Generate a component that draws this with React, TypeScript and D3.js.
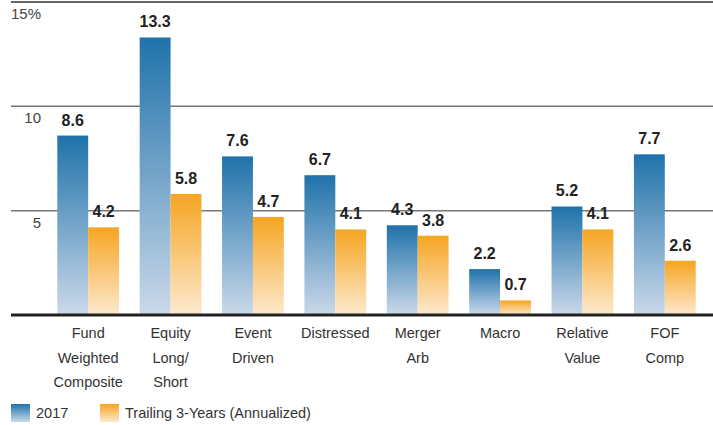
import React, { useEffect, useRef } from 'react';
import * as d3 from 'd3';

const categories = [
  ['Fund', 'Weighted', 'Composite'],
  ['Equity', 'Long/', 'Short'],
  ['Event', 'Driven'],
  ['Distressed'],
  ['Merger', 'Arb'],
  ['Macro'],
  ['Relative', 'Value'],
  ['FOF', 'Comp'],
];
const values2017 = [8.6, 13.3, 7.6, 6.7, 4.3, 2.2, 5.2, 7.7];
const valuesTrailing = [4.2, 5.8, 4.7, 4.1, 3.8, 0.7, 4.1, 2.6];
const seriesNames = ['2017', 'Trailing 3-Years (Annualized)'];
const yTicks = [5, 10, 15];

export default function App() {
  const ref = useRef<SVGSVGElement | null>(null);

  useEffect(() => {
    document.body.style.margin = '0';
    const width = 713;
    const height = 425;
    const font = '"Liberation Sans", Arial, sans-serif';

    const svg = d3.select(ref.current);
    svg.selectAll('*').remove();
    svg.attr('width', width).attr('height', height).style('font-family', font);

    const defs = svg.append('defs');
    const grad = (id, top, bottom) => {
      const g = defs.append('linearGradient').attr('id', id).attr('x1', 0).attr('y1', 0).attr('x2', 0).attr('y2', 1);
      g.append('stop').attr('offset', '0%').attr('stop-color', top);
      g.append('stop').attr('offset', '100%').attr('stop-color', bottom);
    };
    grad('gBlue', '#1f72aa', '#cbd9ea');
    grad('gOrange', '#f6a521', '#fde9cf');

    const x = d3
      .scaleBand()
      .domain(d3.range(categories.length).map(String))
      .range([47, 706])
      .paddingInner(0.25)
      .paddingOuter(0.125);
    const x1 = d3.scaleBand().domain(['a', 'b']).range([0, x.bandwidth()]);
    const y = d3.scaleLinear().domain([0, 15]).range([315, 2]);

    // gridlines + tick labels
    yTicks.forEach((t) => {
      svg
        .append('line')
        .attr('x1', 11)
        .attr('x2', width)
        .attr('y1', y(t))
        .attr('y2', y(t))
        .attr('stroke', t === 15 ? '#333' : '#777')
        .attr('stroke-width', 1.5);
      svg
        .append('text')
        .attr('x', 41)
        .attr('y', y(t) + 17)
        .attr('text-anchor', 'end')
        .attr('font-size', 15)
        .attr('fill', '#444')
        .text(t === 15 ? '15%' : String(t));
    });

    const groups = svg
      .selectAll('.grp')
      .data(categories)
      .join('g')
      .attr('transform', (d, i) => `translate(${x(String(i))},0)`);

    const series = [
      { key: 'a', vals: values2017, fill: 'url(#gBlue)' },
      { key: 'b', vals: valuesTrailing, fill: 'url(#gOrange)' },
    ];
    series.forEach((s) => {
      groups
        .append('rect')
        .attr('x', x1(s.key))
        .attr('y', (d, i) => y(s.vals[i]))
        .attr('width', x1.bandwidth())
        .attr('height', (d, i) => y(0) - y(s.vals[i]))
        .attr('fill', s.fill);
      groups
        .append('text')
        .attr('x', x1(s.key) + x1.bandwidth() / 2)
        .attr('y', (d, i) => y(s.vals[i]) - 10)
        .attr('text-anchor', 'middle')
        .attr('font-size', 16)
        .attr('font-weight', 'bold')
        .attr('fill', '#222')
        .text((d, i) => s.vals[i].toFixed(1));
    });

    // category labels
    groups
      .append('text')
      .attr('text-anchor', 'middle')
      .attr('font-size', 14.5)
      .attr('fill', '#333')
      .selectAll('tspan')
      .data((d) => d)
      .join('tspan')
      .attr('x', x.bandwidth() / 2)
      .attr('y', (d, i) => 338 + i * 24.5)
      .text((d) => d);

    // baseline
    svg
      .append('line')
      .attr('x1', 11)
      .attr('x2', width)
      .attr('y1', y(0))
      .attr('y2', y(0))
      .attr('stroke', '#222')
      .attr('stroke-width', 3);

    // legend
    const legend = [
      { name: seriesNames[0], fill: 'url(#gBlue)', x: 11 },
      { name: seriesNames[1], fill: 'url(#gOrange)', x: 100 },
    ];
    const lg = svg.selectAll('.lg').data(legend).join('g').attr('transform', (d) => `translate(${d.x},404)`);
    lg.append('rect').attr('width', 19).attr('height', 18).attr('fill', (d) => d.fill);
    lg.append('text')
      .attr('x', 25)
      .attr('y', 14)
      .attr('font-size', 14.5)
      .attr('fill', '#333')
      .text((d) => d.name);
  }, []);

  return <svg ref={ref}></svg>;
}
